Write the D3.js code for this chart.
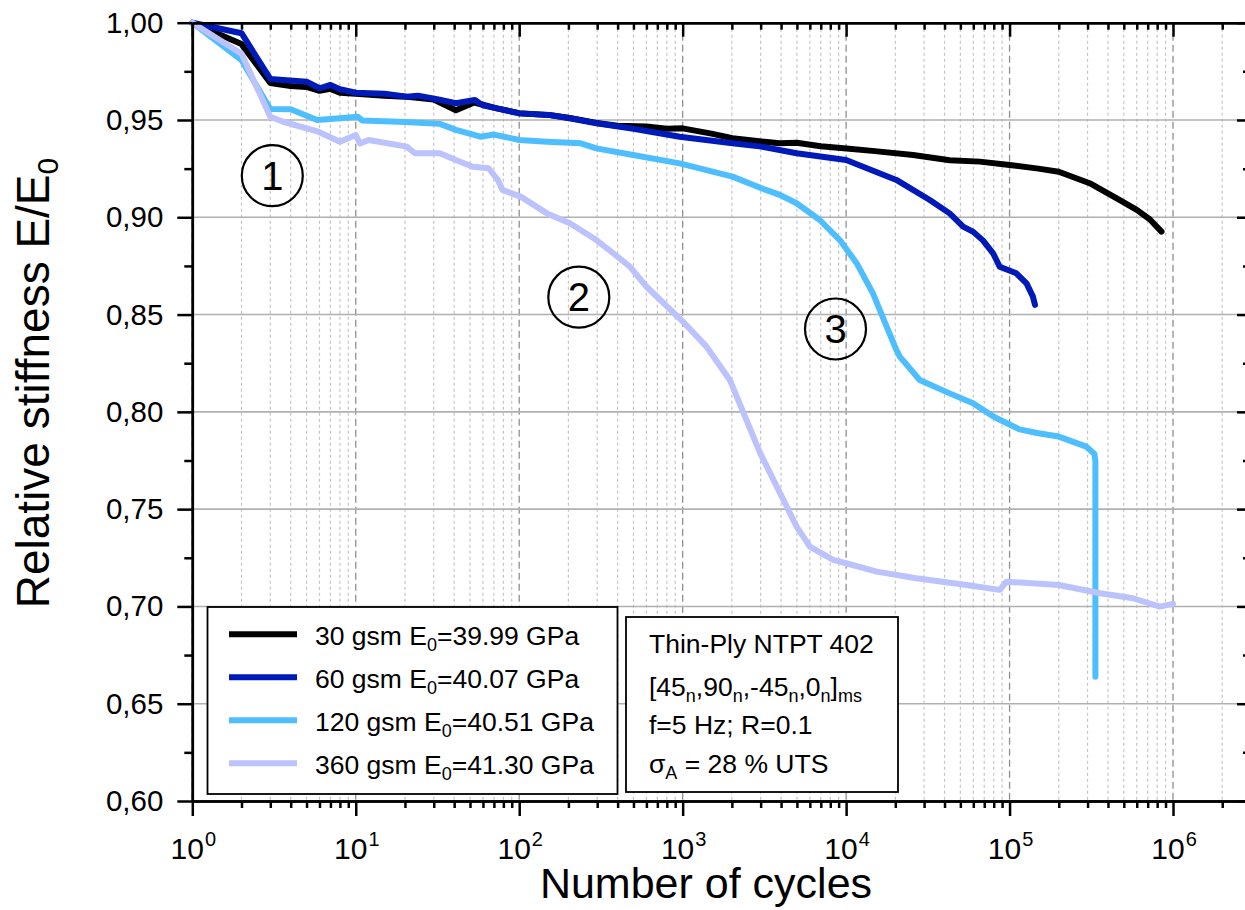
<!DOCTYPE html>
<html>
<head>
<meta charset="utf-8">
<script src="https://cdn.jsdelivr.net/npm/d3@7"></script>
<style>
  body { margin: 0; background: #fff; }
  svg { display: block; font-family: Arial, "Liberation Sans", sans-serif; }
</style>
</head>
<body>
<div id="chart"></div>
<script>
// Values: [cycles, E/E0]
var gsm30 = [[1,1.000],[2,0.989],[3,0.969],[4,0.9675],[5,0.967],[6,0.965],[7,0.966],[8,0.964],[10,0.9635],[15,0.9625],[20,0.962],[30,0.9605],[41,0.955],[53,0.959],[73,0.956],[100,0.9535],[154,0.9525],[204,0.951],[297,0.9485],[400,0.947],[601,0.9466],[800,0.9455],[1000,0.9457],[1500,0.943],[2018,0.9406],[3040,0.9389],[3930,0.938],[4980,0.9383],[7000,0.9365],[10050,0.9354],[15000,0.934],[25700,0.932],[43000,0.9293],[65700,0.9286],[1e5,0.9269],[1.5e5,0.925],[2e5,0.9234],[3.09e5,0.9175],[4.5e5,0.9098],[6e5,0.9038],[7.2e5,0.899],[8.5e5,0.8926]];
var gsm60 = [[1,1.000],[2,0.9946],[3,0.9711],[5,0.9697],[6,0.9663],[7,0.968],[8,0.9658],[10,0.964],[15,0.9635],[20.5,0.962],[24,0.9625],[32,0.9605],[41,0.9586],[53.6,0.9603],[60,0.9575],[73,0.956],[100,0.9534],[154,0.9526],[204,0.9509],[297,0.9483],[500,0.9455],[959,0.9414],[2018,0.938],[3040,0.9363],[4980,0.9329],[1e4,0.9294],[20300,0.9192],[32500,0.9089],[43000,0.902],[52000,0.8952],[60000,0.8925],[68900,0.888],[79300,0.8815],[87000,0.8746],[1.1e5,0.8712],[1.27e5,0.866],[1.39e5,0.8592],[1.43e5,0.855]];
var gsm120 = [[1,1.000],[2,0.9808],[3,0.9556],[4,0.9555],[5.8,0.950],[7,0.9505],[10.3,0.9517],[11,0.9497],[20,0.949],[32.7,0.948],[41,0.9449],[57.8,0.9414],[70,0.9425],[81,0.9414],[100,0.9397],[148,0.9388],[238,0.938],[297,0.9354],[498,0.932],[959,0.9277],[2018,0.9209],[3040,0.9149],[3930,0.9115],[4980,0.9072],[6900,0.8986],[9150,0.8883],[11600,0.8764],[14600,0.8609],[17700,0.8438],[20300,0.8318],[21300,0.8284],[28200,0.8164],[43000,0.8095],[59800,0.8044],[80000,0.7975],[1.15e5,0.791],[1.5e5,0.789],[2e5,0.7873],[2.95e5,0.7821],[3.3e5,0.7785],[3.35e5,0.775],[3.35e5,0.6639]];
var gsm360 = [[1,1.000],[2,0.984],[3,0.9517],[3.6,0.9491],[5,0.9457],[5.9,0.944],[8,0.9388],[10,0.9423],[10.6,0.938],[12,0.9397],[20.5,0.9363],[23,0.9329],[32.7,0.9329],[41,0.9294],[52,0.926],[65,0.9252],[74,0.9192],[79,0.914],[102,0.9106],[148,0.902],[204,0.8969],[297,0.8883],[376,0.8815],[475,0.8746],[601,0.8643],[1000,0.8465],[1400,0.8335],[1944,0.8164],[2970,0.779],[4120,0.755],[4980,0.741],[6000,0.7307],[8330,0.7239],[1e4,0.7222],[15400,0.7179],[26900,0.7145],[54500,0.711],[87000,0.7085],[95700,0.7127],[2e5,0.711],[3.58e5,0.7068],[5.69e5,0.7042],[8.3e5,0.6999],[1e6,0.7013]];

var seriesNames = ["30 gsm", "60 gsm", "120 gsm", "360 gsm"];
var seriesE0 = ["39.99", "40.07", "40.51", "41.30"];
var yTicks = [0.60, 0.65, 0.70, 0.75, 0.80, 0.85, 0.90, 0.95, 1.00];
var decades = [0, 1, 2, 3, 4, 5, 6];
var infoLines = ["Thin-Ply NTPT 402", "[45n,90n,-45n,0n]ms", "f=5 Hz; R=0.1", "σA = 28 % UTS"];

var width = 1245, height = 910;
var colors = ["#000000", "#0019b9", "#4fbeff", "#bbc2fc"];
var allSeries = [gsm30, gsm60, gsm120, gsm360];

var svg = d3.select("#chart").append("svg")
  .attr("width", width).attr("height", height);

var x = d3.scaleLog().domain([1, 3e6]).range([192.3, 1251]);
var y = d3.scaleLinear().domain([0.6, 1.0]).range([801, 22.7]);

// minor tick values for the log axis
var minorX = [];
decades.forEach(function (p) {
  for (var k = 2; k <= 9; k++) {
    var v = k * Math.pow(10, p);
    if (v <= 3e6) minorX.push(v);
  }
});
var majorX = decades.map(function (p) { return Math.pow(10, p); });
var minorY = yTicks.slice(0, -1).map(function (d) { return d + 0.025; });

// grid
svg.append("g").selectAll("line").data(minorX).join("line")
  .attr("x1", d => x(d)).attr("x2", d => x(d))
  .attr("y1", y(1)).attr("y2", y(0.6))
  .attr("stroke", "#c4c4c4").attr("stroke-width", 1.2)
  .attr("stroke-dasharray", "3,3");
svg.append("g").selectAll("line").data(majorX).join("line")
  .attr("x1", d => x(d)).attr("x2", d => x(d))
  .attr("y1", y(1)).attr("y2", y(0.6))
  .attr("stroke", "#8f8f8f").attr("stroke-width", 1.3)
  .attr("stroke-dasharray", "7,4");
svg.append("g").selectAll("line").data(yTicks).join("line")
  .attr("x1", x(1)).attr("x2", x(3e6))
  .attr("y1", d => y(d)).attr("y2", d => y(d))
  .attr("stroke", "#b0b0b0").attr("stroke-width", 1.6);

// curves
var line = d3.line().x(d => x(d[0])).y(d => y(d[1]));
allSeries.forEach(function (s, i) {
  svg.append("path").datum(s)
    .attr("d", line)
    .attr("fill", "none")
    .attr("stroke", colors[i])
    .attr("stroke-width", 6)
    .attr("stroke-linejoin", "round")
    .attr("stroke-linecap", "round");
});

// axes
function styleAxis(g) {
  g.select(".domain").attr("stroke", "#000").attr("stroke-width", 2.5);
  g.selectAll(".tick line").attr("stroke", "#000").attr("stroke-width", 2.5);
}
svg.append("g").attr("transform", "translate(0," + y(0.6) + ")")
  .call(d3.axisBottom(x).tickValues(minorX).tickSize(7).tickSizeOuter(0).tickFormat(""))
  .call(styleAxis);
svg.append("g").attr("transform", "translate(0," + y(0.6) + ")")
  .call(d3.axisBottom(x).tickValues(majorX).tickSize(15).tickSizeOuter(0).tickFormat(""))
  .call(styleAxis);
svg.append("g").attr("transform", "translate(0," + y(1) + ")")
  .call(d3.axisBottom(x).tickValues(minorX).tickSize(7).tickSizeOuter(0).tickFormat(""))
  .call(styleAxis);
svg.append("g").attr("transform", "translate(0," + y(1) + ")")
  .call(d3.axisBottom(x).tickValues(majorX).tickSize(14).tickSizeOuter(0).tickFormat(""))
  .call(styleAxis);

svg.append("g").attr("transform", "translate(" + x(1) + ",0)")
  .call(d3.axisLeft(y).tickValues(minorY).tickSize(8).tickSizeOuter(0).tickFormat(""))
  .call(styleAxis);
var yAx = svg.append("g").attr("transform", "translate(" + x(1) + ",0)")
  .call(d3.axisLeft(y).tickValues(yTicks).tickSize(15).tickSizeOuter(0).tickPadding(14)
    .tickFormat(d => d.toFixed(2).replace(".", ",")))
  .call(styleAxis);
yAx.selectAll("text").attr("font-size", 29.5).attr("font-family", "Arial, 'Liberation Sans', sans-serif").attr("fill", "#000");

svg.append("g").attr("transform", "translate(" + x(3e6) + ",0)")
  .call(d3.axisLeft(y).tickValues(minorY).tickSize(8).tickSizeOuter(0).tickFormat(""))
  .call(styleAxis);
svg.append("g").attr("transform", "translate(" + x(3e6) + ",0)")
  .call(d3.axisLeft(y).tickValues(yTicks).tickSize(14).tickSizeOuter(0).tickFormat(""))
  .call(styleAxis);

// x tick labels 10^n
var xl = svg.append("g").selectAll("text").data(decades).join("text")
  .attr("x", d => x(Math.pow(10, d)) + 1)
  .attr("y", 859)
  .attr("text-anchor", "middle")
  .attr("font-size", 30);
xl.append("tspan").text("10");
xl.append("tspan").text(d => d).attr("font-size", 20).attr("dy", -13).attr("dx", 1);

// axis titles
svg.append("text")
  .attr("x", 706).attr("y", 898)
  .attr("text-anchor", "middle")
  .attr("font-size", 43)
  .text("Number of cycles");
var yt = svg.append("text")
  .attr("transform", "translate(49," + 383 + ") rotate(-90)")
  .attr("text-anchor", "middle")
  .attr("font-size", 46);
yt.append("tspan").text("Relative stiffness E/E");
yt.append("tspan").text("0").attr("font-size", 30).attr("dy", 9);

// legend box
svg.append("rect").attr("x", 207.5).attr("y", 607).attr("width", 410).attr("height", 187)
  .attr("fill", "#fff").attr("stroke", "#000").attr("stroke-width", 1.8);
var leg = svg.append("g").selectAll("g").data(seriesNames).join("g")
  .attr("transform", (d, i) => "translate(0," + (634.3 + i * 43) + ")");
leg.append("line").attr("x1", 229).attr("x2", 297).attr("y1", 0).attr("y2", 0)
  .attr("stroke", (d, i) => colors[i]).attr("stroke-width", 6);
var legText = leg.append("text").attr("x", 315).attr("y", 10.5).attr("font-size", 26.5);
legText.append("tspan").text(d => d + " E");
legText.append("tspan").text("0").attr("font-size", 18).attr("dy", 6);
legText.append("tspan").text((d, i) => "=" + seriesE0[i] + " GPa").attr("dy", -6);

// info box
svg.append("rect").attr("x", 626).attr("y", 617).attr("width", 272).attr("height", 175)
  .attr("fill", "#fff").attr("stroke", "#000").attr("stroke-width", 1.8);
var infoY = [653.3, 696, 734, 772.7];
svg.append("text").attr("x", 649).attr("y", infoY[0]).attr("font-size", 26.5).text(infoLines[0]);
var t2 = svg.append("text").attr("x", 649).attr("y", infoY[1]).attr("font-size", 26.5);
[["[45", 0], ["n", 1], [",90", 0], ["n", 1], [",-45", 0], ["n", 1], [",0", 0], ["n", 1], ["]", 0], ["ms", 1]]
  .forEach(function (p, i, arr) {
    var prevSub = i > 0 ? arr[i - 1][1] : 0;
    var dy = p[1] === prevSub ? 0 : (p[1] ? 6 : -6);
    t2.append("tspan").text(p[0]).attr("font-size", p[1] ? 18 : 26.5).attr("dy", dy);
  });
svg.append("text").attr("x", 649).attr("y", infoY[2]).attr("font-size", 26.5).text(infoLines[2]);
var t4 = svg.append("text").attr("x", 649).attr("y", infoY[3]).attr("font-size", 26.5);
t4.append("tspan").text("σ");
t4.append("tspan").text("A").attr("font-size", 18).attr("dy", 6);
t4.append("tspan").text(" = 28 % UTS").attr("dy", -6);

// numbered stage markers
var markers = [{ n: "1", cx: 272.3, cy: 175.7 }, { n: "2", cx: 578.8, cy: 297.2 }, { n: "3", cx: 835.5, cy: 329 }];
var mk = svg.append("g").selectAll("g").data(markers).join("g")
  .attr("transform", d => "translate(" + d.cx + "," + d.cy + ")");
mk.append("circle").attr("r", 30.5).attr("fill", "none").attr("stroke", "#000").attr("stroke-width", 2.2);
mk.append("text").text(d => d.n).attr("text-anchor", "middle").attr("y", 14).attr("font-size", 40);
</script>
</body>
</html>
